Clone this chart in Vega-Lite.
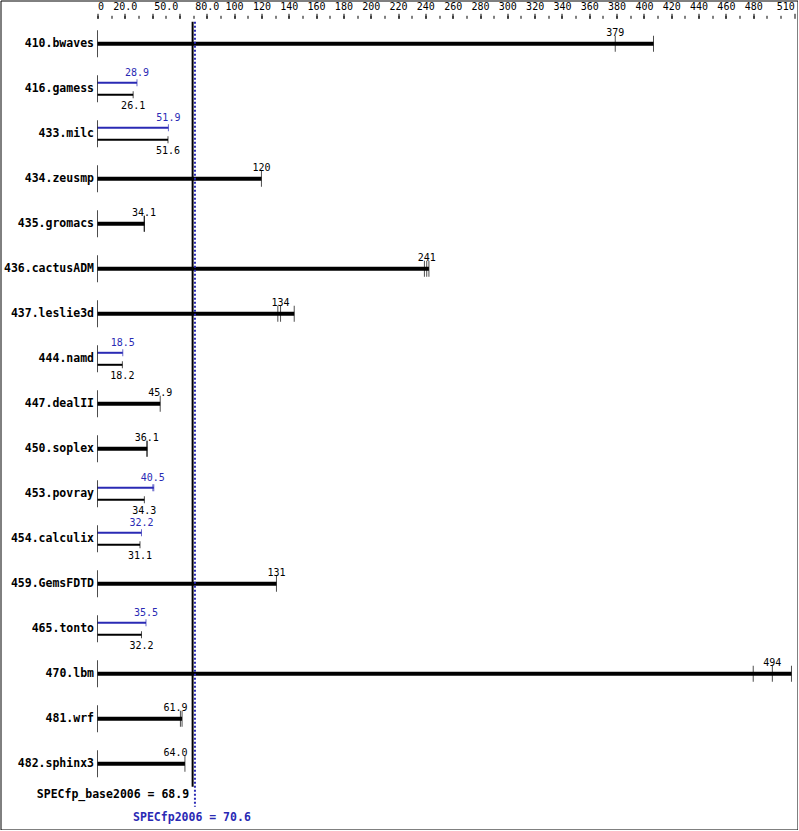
{
  "$schema": "https://vega.github.io/schema/vega-lite/v6.json",
  "width": 797,
  "height": 829,
  "autosize": {"type": "none"},
  "padding": {"left": 0.5, "top": 0.5, "right": 0, "bottom": 0},
  "background": "white",
  "config": {
    "view": {"stroke": "black", "strokeWidth": 1},
    "font": "DejaVu Sans Mono",
    "text": {"font": "DejaVu Sans Mono", "fontSize": 10},
    "axis": {"labelOverlap": false}
  },
  "resolve": {"scale": {"x": "shared", "y": "shared"}, "axis": {"x": "independent"}},
  "datasets": {
    "runs": [
      {"bench": "410.bwaves", "kind": "single", "run": 379},
      {"bench": "410.bwaves", "kind": "single", "run": 407},
      {"bench": "416.gamess", "kind": "peak", "run": 28.9},
      {"bench": "416.gamess", "kind": "base", "run": 26.1},
      {"bench": "433.milc", "kind": "peak", "run": 51.9},
      {"bench": "433.milc", "kind": "base", "run": 51.6},
      {"bench": "434.zeusmp", "kind": "single", "run": 120},
      {"bench": "435.gromacs", "kind": "single", "run": 34.1},
      {"bench": "435.gromacs", "kind": "single", "run": 34.4},
      {"bench": "436.cactusADM", "kind": "single", "run": 239.3},
      {"bench": "436.cactusADM", "kind": "single", "run": 241},
      {"bench": "436.cactusADM", "kind": "single", "run": 242.6},
      {"bench": "437.leslie3d", "kind": "single", "run": 132},
      {"bench": "437.leslie3d", "kind": "single", "run": 134},
      {"bench": "437.leslie3d", "kind": "single", "run": 144},
      {"bench": "444.namd", "kind": "peak", "run": 18.5},
      {"bench": "444.namd", "kind": "base", "run": 18.2},
      {"bench": "447.dealII", "kind": "single", "run": 45.9},
      {"bench": "450.soplex", "kind": "single", "run": 36.1},
      {"bench": "450.soplex", "kind": "single", "run": 36.4},
      {"bench": "453.povray", "kind": "peak", "run": 40.5},
      {"bench": "453.povray", "kind": "peak", "run": 41.2},
      {"bench": "453.povray", "kind": "base", "run": 34.3},
      {"bench": "454.calculix", "kind": "peak", "run": 32.2},
      {"bench": "454.calculix", "kind": "base", "run": 31.1},
      {"bench": "459.GemsFDTD", "kind": "single", "run": 131},
      {"bench": "465.tonto", "kind": "peak", "run": 35.5},
      {"bench": "465.tonto", "kind": "base", "run": 32.2},
      {"bench": "470.lbm", "kind": "single", "run": 480},
      {"bench": "470.lbm", "kind": "single", "run": 494},
      {"bench": "470.lbm", "kind": "single", "run": 508},
      {"bench": "481.wrf", "kind": "single", "run": 60.7},
      {"bench": "481.wrf", "kind": "single", "run": 61.9},
      {"bench": "482.sphinx3", "kind": "single", "run": 64.0}
    ],
    "scores": [
      {"bench": "410.bwaves", "kind": "single", "score": 379, "label": "379"},
      {"bench": "416.gamess", "kind": "peak", "score": 28.9, "label": "28.9"},
      {"bench": "416.gamess", "kind": "base", "score": 26.1, "label": "26.1"},
      {"bench": "433.milc", "kind": "peak", "score": 51.9, "label": "51.9"},
      {"bench": "433.milc", "kind": "base", "score": 51.6, "label": "51.6"},
      {"bench": "434.zeusmp", "kind": "single", "score": 120, "label": "120"},
      {"bench": "435.gromacs", "kind": "single", "score": 34.1, "label": "34.1"},
      {"bench": "436.cactusADM", "kind": "single", "score": 241, "label": "241"},
      {"bench": "437.leslie3d", "kind": "single", "score": 134, "label": "134"},
      {"bench": "444.namd", "kind": "peak", "score": 18.5, "label": "18.5"},
      {"bench": "444.namd", "kind": "base", "score": 18.2, "label": "18.2"},
      {"bench": "447.dealII", "kind": "single", "score": 45.9, "label": "45.9"},
      {"bench": "450.soplex", "kind": "single", "score": 36.1, "label": "36.1"},
      {"bench": "453.povray", "kind": "peak", "score": 40.5, "label": "40.5"},
      {"bench": "453.povray", "kind": "base", "score": 34.3, "label": "34.3"},
      {"bench": "454.calculix", "kind": "peak", "score": 32.2, "label": "32.2"},
      {"bench": "454.calculix", "kind": "base", "score": 31.1, "label": "31.1"},
      {"bench": "459.GemsFDTD", "kind": "single", "score": 131, "label": "131"},
      {"bench": "465.tonto", "kind": "peak", "score": 35.5, "label": "35.5"},
      {"bench": "465.tonto", "kind": "base", "score": 32.2, "label": "32.2"},
      {"bench": "470.lbm", "kind": "single", "score": 494, "label": "494"},
      {"bench": "481.wrf", "kind": "single", "score": 61.9, "label": "61.9"},
      {"bench": "482.sphinx3", "kind": "single", "score": 64.0, "label": "64.0"}
    ],
    "summary": [
      {"metric": "SPECfp_base2006", "kind": "base", "score": 68.9, "label": "SPECfp_base2006 = 68.9", "top": "410.bwaves", "bottom": "482.sphinx3"},
      {"metric": "SPECfp2006", "kind": "peak", "score": 70.6, "label": "SPECfp2006 = 70.6", "top": "410.bwaves", "bottom": "482.sphinx3"}
    ]
  },
  "layer": [
    {
      "data": {"name": "runs"},
      "transform": [{"filter": "datum.kind === 'single'"}],
      "mark": {"type": "tick", "size": 16, "thickness": 1, "color": "black"},
      "encoding": {
        "x": {
          "field": "run", "type": "quantitative", "title": null,
          "scale": {"domain": [0, 510], "range": [97, 793.7], "nice": false, "zero": false},
          "axis": {
            "orient": "top", "offset": -17.8, "domain": false, "grid": false, "title": null,
            "values": [0,10,20,30,40,50,60,70,80,90,100,110,120,130,140,150,160,170,180,190,200,210,220,230,240,250,260,270,280,290,300,310,320,330,340,350,360,370,380,390,400,410,420,430,440,450,460,470,480,490,500],
            "tickSize": 3, "tickColor": "black", "tickWidth": 1, "labels": false
          }
        },
        "y": {
          "field": "bench", "type": "nominal", "sort": null, "title": null,
          "scale": {"type": "point", "domain": ["410.bwaves","416.gamess","433.milc","434.zeusmp","435.gromacs","436.cactusADM","437.leslie3d","444.namd","447.dealII","450.soplex","453.povray","454.calculix","459.GemsFDTD","465.tonto","470.lbm","481.wrf","482.sphinx3"], "range": [43.3, 763.3], "padding": 0},
          "axis": {"orient": "left", "offset": -93, "domain": false, "ticks": false, "tickSize": 0, "grid": false, "labelPadding": 0, "labelFont": "DejaVu Sans Mono", "labelFontWeight": "bold", "labelFontSize": 11.5, "labelColor": "black", "labelBaseline": "middle", "labelAlign": "right"}
        }
      }
    },
    {
      "data": {"name": "runs"},
      "transform": [{"filter": "datum.kind === 'single'"}],
      "mark": {"type": "bar", "color": "black", "height": 4},
      "encoding": {
        "x": {
          "field": "run", "type": "quantitative", "aggregate": "max", "title": null,
          "axis": {
            "orient": "top", "offset": -17.8, "domain": false, "grid": false, "title": null,
            "values": [0,20,40,60,80,100,120,140,160,180,200,220,240,260,280,300,320,340,360,380,400,420,440,460,480,510],
            "tickSize": 5, "tickColor": "black", "tickWidth": 1, "labels": false
          }
        },
        "y": {"field": "bench", "type": "nominal", "sort": null}
      }
    },
    {
      "data": {"name": "runs"},
      "transform": [{"filter": "datum.kind === 'peak'"}],
      "mark": {"type": "bar", "color": "#2a2ab4", "height": 2, "yOffset": -6},
      "encoding": {
        "x": {
          "field": "run", "type": "quantitative", "aggregate": "max", "title": null,
          "axis": {
            "orient": "top", "offset": -17.8, "domain": false, "grid": false, "title": null,
            "values": [0,20,50,80,100,120,140,160,180,200,220,240,260,280,300,320,340,360,380,400,420,440,460,480,510],
            "ticks": false, "tickSize": 0, "labelPadding": 7,
            "labelFont": "DejaVu Sans Mono", "labelFontSize": 10, "labelColor": "black",
            "labelFlush": true, "labelOverlap": false,
            "labelExpr": "(datum.value > 0 && datum.value < 100) ? format(datum.value, '.1f') : datum.label"
          }
        },
        "y": {"field": "bench", "type": "nominal", "sort": null}
      }
    },
    {
      "data": {"name": "scores"},
      "transform": [{"filter": "datum.kind !== 'peak'"}],
      "mark": {"type": "tick", "size": 27, "thickness": 1, "color": "black"},
      "encoding": {
        "x": {"datum": 0, "type": "quantitative", "axis": null},
        "y": {"field": "bench", "type": "nominal", "sort": null}
      }
    },
    {
      "data": {"name": "runs"},
      "transform": [{"filter": "datum.kind === 'base'"}],
      "mark": {"type": "bar", "color": "black", "height": 2, "yOffset": 6},
      "encoding": {
        "x": {"field": "run", "type": "quantitative", "aggregate": "max", "axis": null},
        "y": {"field": "bench", "type": "nominal", "sort": null}
      }
    },
    {
      "data": {"name": "runs"},
      "transform": [{"filter": "datum.kind === 'peak'"}],
      "mark": {"type": "tick", "size": 7, "thickness": 1, "color": "#2a2ab4", "yOffset": -6},
      "encoding": {
        "x": {"field": "run", "type": "quantitative", "axis": null},
        "y": {"field": "bench", "type": "nominal", "sort": null}
      }
    },
    {
      "data": {"name": "runs"},
      "transform": [{"filter": "datum.kind === 'base'"}],
      "mark": {"type": "tick", "size": 7, "thickness": 1, "color": "black", "yOffset": 6},
      "encoding": {
        "x": {"field": "run", "type": "quantitative", "axis": null},
        "y": {"field": "bench", "type": "nominal", "sort": null}
      }
    },
    {
      "data": {"name": "scores"},
      "transform": [{"filter": "datum.kind === 'single' && datum.bench !== '481.wrf' && datum.bench !== '482.sphinx3'"}],
      "mark": {"type": "text", "color": "black", "align": "center", "baseline": "alphabetic", "yOffset": -7.5},
      "encoding": {
        "x": {"field": "score", "type": "quantitative", "axis": null},
        "y": {"field": "bench", "type": "nominal", "sort": null},
        "text": {"field": "label"}
      }
    },
    {
      "data": {"name": "scores"},
      "transform": [{"filter": "datum.bench === '481.wrf' || datum.bench === '482.sphinx3'"}],
      "mark": {"type": "text", "color": "black", "align": "right", "baseline": "alphabetic", "yOffset": -7.5, "dx": -4},
      "encoding": {
        "x": {"datum": 68.9, "type": "quantitative", "axis": null},
        "y": {"field": "bench", "type": "nominal", "sort": null},
        "text": {"field": "label"}
      }
    },
    {
      "data": {"name": "scores"},
      "transform": [{"filter": "datum.kind === 'peak'"}],
      "mark": {"type": "text", "color": "#2a2ab4", "align": "center", "baseline": "alphabetic", "yOffset": -12.5},
      "encoding": {
        "x": {"field": "score", "type": "quantitative", "axis": null},
        "y": {"field": "bench", "type": "nominal", "sort": null},
        "text": {"field": "label"}
      }
    },
    {
      "data": {"name": "scores"},
      "transform": [{"filter": "datum.kind === 'base'"}],
      "mark": {"type": "text", "color": "black", "align": "center", "baseline": "alphabetic", "yOffset": 20.5},
      "encoding": {
        "x": {"field": "score", "type": "quantitative", "axis": null},
        "y": {"field": "bench", "type": "nominal", "sort": null},
        "text": {"field": "label"}
      }
    },
    {
      "data": {"name": "summary"},
      "transform": [{"filter": "datum.kind === 'base'"}],
      "mark": {"type": "text", "color": "black", "align": "right", "baseline": "alphabetic", "yOffset": 34.5, "dx": -2.5, "fontSize": 11.5, "fontWeight": "bold"},
      "encoding": {
        "x": {"field": "score", "type": "quantitative", "axis": null},
        "y": {"field": "bottom", "type": "nominal", "sort": null},
        "text": {"field": "label"}
      }
    },
    {
      "data": {"name": "summary"},
      "transform": [{"filter": "datum.kind === 'peak'"}],
      "mark": {"type": "text", "color": "#2a2ab4", "align": "center", "baseline": "alphabetic", "yOffset": 57, "dx": -2, "fontSize": 11.5, "fontWeight": "bold"},
      "encoding": {
        "x": {"field": "score", "type": "quantitative", "axis": null},
        "y": {"field": "bottom", "type": "nominal", "sort": null},
        "text": {"field": "label"}
      }
    },
    {
      "data": {"name": "summary"},
      "transform": [{"filter": "datum.kind === 'base'"}],
      "mark": {"type": "rule", "color": "black", "strokeWidth": 2, "xOffset": 1, "yOffset": -22, "y2Offset": 23},
      "encoding": {
        "x": {"field": "score", "type": "quantitative", "axis": null},
        "y": {"field": "top", "type": "nominal", "sort": null},
        "y2": {"field": "bottom"}
      }
    },
    {
      "data": {"name": "summary"},
      "transform": [{"filter": "datum.kind === 'peak'"}],
      "mark": {"type": "rule", "color": "#2a2ab4", "strokeWidth": 2, "strokeDash": [2, 2], "xOffset": 1, "yOffset": -22, "y2Offset": 43},
      "encoding": {
        "x": {"field": "score", "type": "quantitative", "axis": null},
        "y": {"field": "top", "type": "nominal", "sort": null},
        "y2": {"field": "bottom"}
      }
    }
  ]
}
